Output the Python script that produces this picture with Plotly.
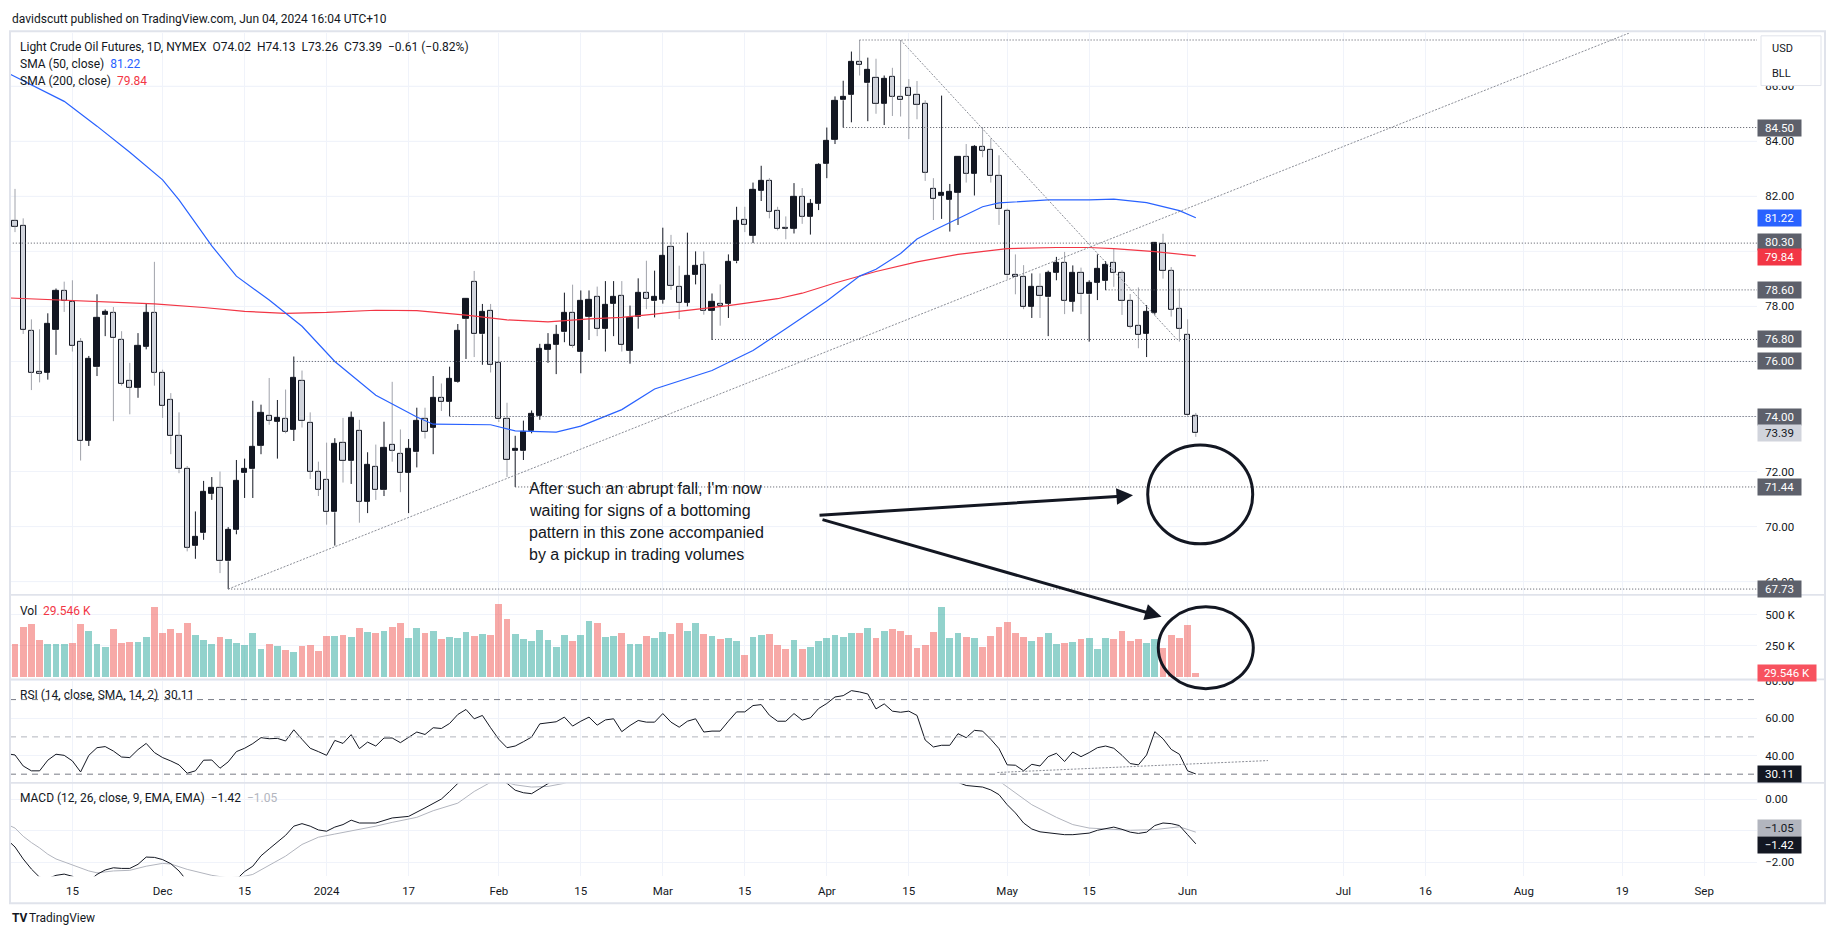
import pandas as pd
import plotly.graph_objects as go

# ---------------------------------------------------------------- data
SESSION_START = "2023-11-03"          # first session (off-screen, feeds indicator lines)
SESSION_END = "2024-09-30"
HOLIDAYS = ["2023-11-23", "2023-12-25", "2024-01-01", "2024-01-15", "2024-02-19",
            "2024-03-29", "2024-05-27", "2024-06-19", "2024-07-04", "2024-09-02"]

# bars 0..144 = 2023-11-06 .. 2024-06-04
OPEN = [
    81.12, 80.94, 77.11, 75.64, 75.60, 77.14, 78.55, 78.17, 76.73, 73.11,
    75.79, 77.68, 77.75, 76.78, 75.30, 75.05, 76.53, 77.75, 75.60, 74.59,
    73.28, 72.11, 69.29, 69.76, 71.18, 71.42, 68.74, 69.87, 71.94, 72.08,
    72.93, 74.04, 73.81, 73.91, 73.53, 75.30, 73.78, 72.00, 71.69, 70.52,
    73.05, 72.38, 73.49, 70.91, 72.17, 71.32, 72.98, 72.63, 71.97, 72.70,
    73.91, 73.60, 74.67, 74.53, 75.26, 77.54, 78.88, 76.99, 77.85, 75.95,
    73.90, 72.74, 72.74, 73.49, 74.04, 76.44, 76.60, 77.06, 77.78, 76.34,
    77.61, 78.33, 77.17, 78.09, 78.37, 76.39, 77.61, 78.48, 78.19, 78.23,
    80.16, 78.72, 78.13, 79.14, 79.50, 77.85, 78.09, 78.09, 79.64, 81.13,
    80.58, 82.20, 82.55, 81.48, 80.86, 80.83, 81.97, 81.27, 81.72, 83.18,
    84.07, 85.49, 85.68, 86.88, 86.11, 86.32, 85.36, 86.35, 85.63, 85.94,
    85.70, 85.36, 82.27, 82.01, 81.87, 82.13, 83.42, 82.83, 83.80, 83.70,
    82.75, 81.48, 79.16, 79.09, 78.00, 78.72, 78.33, 79.22, 79.58, 78.16,
    79.23, 78.44, 78.86, 78.92, 79.58, 79.22, 78.21, 77.30, 77.02, 77.78,
    80.28, 79.29, 77.90, 76.96, 74.02]
HIGH = [
    82.27, 81.20, 77.53, 77.17, 77.75, 78.65, 78.90, 78.95, 76.85, 76.20,
    78.44, 77.89, 77.98, 77.10, 75.95, 77.03, 78.12, 79.62, 75.70, 74.85,
    74.15, 72.20, 70.55, 71.66, 71.80, 72.00, 69.98, 72.42, 72.47, 74.57,
    74.43, 75.40, 74.60, 74.98, 76.18, 75.67, 74.15, 72.36, 73.05, 73.21,
    73.95, 74.18, 73.88, 72.70, 72.98, 73.81, 75.26, 73.53, 73.18, 74.32,
    74.32, 75.47, 75.20, 75.81, 77.36, 78.30, 79.29, 78.09, 78.09, 76.90,
    74.50, 73.30, 73.85, 74.22, 76.64, 77.03, 77.33, 78.50, 78.79, 78.58,
    78.58, 78.72, 78.92, 78.92, 78.92, 78.03, 79.02, 79.66, 79.30, 80.86,
    80.60, 79.48, 80.68, 80.00, 80.00, 78.47, 78.80, 79.89, 81.62, 81.62,
    82.50, 83.11, 82.66, 81.62, 81.27, 82.48, 82.30, 81.90, 83.20, 84.50,
    85.63, 86.20, 87.26, 87.68, 87.04, 87.00, 86.39, 86.67, 87.68, 86.26,
    86.19, 85.49, 82.66, 85.66, 82.45, 83.45, 83.90, 83.86, 84.52, 84.10,
    83.49, 81.55, 79.89, 79.50, 79.20, 79.20, 79.30, 79.80, 79.98, 79.49,
    79.41, 78.95, 79.89, 79.65, 80.10, 79.31, 78.45, 78.69, 78.05, 80.32,
    80.64, 79.43, 78.65, 77.53, 74.13]
LOW = [
    80.70, 77.00, 74.96, 75.24, 75.34, 76.24, 77.80, 76.36, 72.40, 72.93,
    75.47, 76.92, 73.83, 75.12, 74.08, 74.68, 76.44, 75.12, 73.95, 72.63,
    71.94, 69.10, 68.83, 69.52, 70.97, 68.31, 67.73, 69.72, 71.04, 71.04,
    72.63, 73.70, 72.47, 73.39, 73.11, 73.60, 71.73, 71.11, 70.07, 69.31,
    71.60, 71.55, 70.14, 70.49, 70.97, 71.11, 72.36, 71.25, 70.49, 72.15,
    73.20, 72.63, 74.20, 74.01, 75.23, 76.09, 76.16, 75.88, 75.60, 73.80,
    71.80, 71.44, 72.42, 73.39, 73.88, 75.95, 75.54, 76.70, 76.50, 75.57,
    76.78, 76.92, 76.36, 76.92, 76.36, 75.92, 77.19, 77.90, 77.60, 78.10,
    78.60, 77.54, 78.00, 78.80, 77.70, 76.78, 77.30, 77.58, 79.57, 80.70,
    80.30, 81.83, 81.20, 80.76, 80.44, 80.65, 81.00, 80.61, 81.50, 82.66,
    83.90, 84.50, 84.69, 86.39, 84.73, 85.00, 84.59, 84.92, 84.90, 84.08,
    84.80, 82.56, 81.14, 81.18, 80.72, 80.96, 82.50, 82.03, 83.42, 82.50,
    80.96, 79.00, 78.44, 77.90, 77.58, 77.58, 76.92, 78.95, 77.72, 77.81,
    77.72, 76.72, 78.23, 78.59, 78.71, 77.69, 77.20, 76.48, 76.16, 77.70,
    79.01, 77.63, 76.72, 74.00, 73.26]
CLOSE = [
    80.90, 77.14, 75.60, 75.56, 77.35, 78.55, 78.21, 76.57, 73.11, 76.09,
    77.58, 77.82, 76.85, 75.19, 75.05, 76.58, 77.75, 75.60, 74.39, 73.28,
    72.08, 69.24, 69.63, 71.28, 71.42, 68.74, 69.87, 71.66, 72.08, 72.91,
    74.15, 73.85, 73.95, 73.46, 75.42, 73.83, 72.00, 71.34, 70.52, 73.00,
    72.38, 73.95, 70.91, 72.24, 71.32, 72.87, 72.77, 71.94, 72.84, 73.83,
    73.43, 74.67, 74.53, 75.36, 77.13, 78.26, 76.99, 77.82, 75.88, 73.90,
    72.42, 72.84, 73.43, 74.08, 76.47, 76.62, 76.95, 77.78, 76.58, 78.19,
    78.23, 77.19, 78.05, 78.33, 76.60, 77.58, 78.51, 78.28, 78.33, 79.82,
    78.75, 78.13, 79.10, 79.48, 77.85, 78.16, 78.03, 79.61, 81.11, 80.96,
    82.22, 82.55, 81.44, 80.82, 80.82, 81.99, 81.27, 81.73, 83.14, 84.00,
    85.47, 85.63, 86.88, 86.77, 86.60, 85.36, 86.28, 85.63, 85.49, 85.66,
    85.33, 82.87, 81.90, 82.11, 82.15, 83.42, 82.83, 83.79, 83.67, 82.73,
    81.55, 79.13, 79.06, 77.98, 78.72, 78.37, 79.23, 79.58, 78.21, 79.23,
    78.44, 78.86, 79.37, 79.52, 79.22, 78.21, 77.27, 76.96, 77.81, 80.30,
    79.29, 77.89, 77.19, 74.05, 73.39]

VOLUME_K = [
    266, 398, 427, 298, 261, 261, 261, 274, 427, 371,
    266, 237, 387, 274, 282, 282, 323, 565, 355, 387,
    355, 435, 341, 298, 266, 323, 306, 274, 258, 355,
    226, 266, 250, 218, 202, 250, 258, 210, 331, 331,
    339, 323, 395, 363, 355, 371, 403, 435, 315, 395,
    355, 371, 306, 323, 315, 363, 331, 347, 339, 589,
    468, 347, 306, 290, 379, 298, 242, 339, 290, 339,
    452, 435, 323, 331, 355, 266, 266, 331, 315, 363,
    347, 435, 371, 435, 347, 331, 306, 315, 290, 177,
    323, 339, 347, 258, 226, 298, 226, 242, 290, 315,
    339, 323, 355, 355, 395, 315, 371, 387, 371, 339,
    234, 258, 363, 565, 315, 355, 323, 315, 242, 331,
    403, 444, 355, 323, 290, 323, 355, 266, 274, 282,
    306, 315, 226, 315, 306, 371, 290, 306, 274, 306,
    234, 339, 315, 419, 29.546]
VOL_TEAL_EXTRA = [6]          # volume column teal although the candle closed lower

# RSI, bars -1..144
RSI = [41.0,
       40.3, 34.4, 31.8, 31.8, 37.5, 40.7, 40.1, 37.1, 31.2, 40.1,
       44.2, 44.8, 42.4, 39.2, 38.9, 43.2, 46.5, 41.6, 38.9, 37.1,
       35.0, 30.5, 31.8, 37.5, 37.6, 33.2, 36.6, 42.1, 43.9, 46.4,
       49.6, 49.0, 49.2, 47.8, 53.8, 48.7, 43.9, 42.1, 40.1, 48.1,
       46.5, 51.2, 43.7, 47.2, 45.1, 49.4, 49.4, 46.9, 49.6, 52.6,
       51.3, 54.9, 54.5, 57.2, 62.0, 64.7, 59.7, 61.5, 54.9, 48.7,
       44.2, 45.1, 47.4, 49.9, 57.0, 57.4, 58.1, 60.6, 55.8, 58.4,
       60.6, 56.3, 59.1, 59.7, 52.8, 56.1, 58.8, 57.9, 57.9, 62.5,
       57.9, 55.2, 58.4, 59.7, 52.6, 53.1, 53.1, 58.4, 63.4, 63.4,
       66.8, 67.3, 61.6, 58.4, 58.4, 62.5, 59.0, 60.2, 65.2, 67.9,
       71.4, 72.1, 74.8, 74.1, 73.0, 65.0, 67.7, 63.8, 63.2, 63.8,
       61.5, 48.3, 44.6, 45.5, 45.5, 51.7, 49.6, 53.5, 53.1, 48.7,
       43.7, 35.0, 34.8, 31.8, 35.3, 34.4, 39.4, 41.2, 36.8, 41.9,
       39.4, 41.6, 44.2, 45.1, 43.9, 40.1, 35.7, 35.0, 40.3, 52.8,
       49.0, 43.3, 40.7, 31.8, 30.11]

SMA50_BAR = [-1, 6, 10, 14, 18, 20, 24, 27, 31, 35, 39, 44, 49, 51, 58, 61, 66, 69, 74, 78,
             85, 90, 94, 99, 103, 105, 108, 110, 112, 115, 118, 120, 126, 131, 134, 138, 142, 144]
SMA50_VAL = [86.50, 85.45, 84.55, 83.60, 82.60, 81.87, 80.20, 79.10, 78.23, 77.28,
             76.00, 74.77, 73.98, 73.72, 73.70, 73.48, 73.43, 73.65, 74.25, 75.00,
             75.67, 76.40, 77.19, 78.20, 79.10, 79.35, 79.92, 80.45, 80.76, 81.20,
             81.62, 81.76, 81.87, 81.87, 81.90, 81.77, 81.48, 81.22]
SMA200_BAR = [-1, 8, 17, 23, 28, 33, 38, 44, 49, 55, 60, 65, 70, 74, 78, 87, 93, 96, 100,
              105, 110, 115, 121, 127, 131, 134, 139, 144]
SMA200_VAL = [78.31, 78.19, 78.09, 77.96, 77.82, 77.75, 77.78, 77.86, 77.85, 77.68,
              77.51, 77.44, 77.55, 77.60, 77.72, 78.03, 78.28, 78.48, 78.85, 79.27,
              79.62, 79.89, 80.10, 80.14, 80.14, 80.10, 79.99, 79.84]

MACD_BAR = list(range(-1, 43)) + [44, 46, 48, 50, 52, 53, 54, 55, 56, 57, 58, 59, 60, 61, 62, 63, 64, 65, 66,
                                  68, 70, 72, 75, 78, 80, 84, 88, 91, 95, 99, 102, 105, 108, 111, 113, 114,
                                  115, 116, 118, 119, 120, 121, 122, 123, 124, 125, 126, 128, 129, 131, 132,
                                  134, 135, 136, 137, 138, 139, 140, 141, 142, 143, 144]
MACD_VAL = [-1.28, -1.52, -1.90, -2.22, -2.48, -2.52, -2.42, -2.38, -2.45, -2.65, -2.60, -2.39,
            -2.25, -2.18, -2.20, -2.20, -2.07, -1.84, -1.85, -1.92, -2.05, -2.28, -2.60, -2.85,
            -2.90, -2.88, -2.95, -2.80, -2.55, -2.30, -2.13, -1.80, -1.58, -1.35, -1.15, -0.86,
            -0.78, -0.86, -0.98, -1.02, -0.89, -0.81, -0.67, -0.76,
            -0.76, -0.60, -0.55, -0.28, 0.00, 0.24, 0.50, 0.75, 0.85, 0.85, 0.80, 0.62, 0.50,
            0.28, 0.20, 0.17, 0.33, 0.50, 0.65,
            0.75, 0.85, 0.90, 0.80, 0.75, 0.85, 0.80, 1.00, 1.30, 1.30, 1.60, 2.10, 2.20, 2.00,
            1.50, 1.10, 0.75, 0.53, 0.43, 0.38, 0.29, 0.14, -0.18, -0.44, -0.76, -0.95, -1.04,
            -1.07, -1.13, -1.13, -1.08, -0.99, -0.89, -0.96, -1.05, -1.09, -1.05, -0.84, -0.76,
            -0.78, -0.84, -1.13, -1.42]
SIGNAL_BAR = [-1, 0, 1, 2, 3, 4, 5, 6, 7, 8, 9, 10, 12, 14, 16, 18, 19, 21, 23, 24, 26, 28,
              29, 31, 33, 35, 37, 39, 42, 44, 46, 49, 51, 54, 56, 58, 59, 60, 61, 63, 65, 67,
              68, 72, 78, 85, 90, 95, 100, 105, 110, 114, 118, 120, 122, 124, 127, 129, 131,
              134, 136, 139, 142, 144]
SIGNAL_VAL = [-0.80, -0.92, -1.18, -1.38, -1.55, -1.75, -1.90, -2.00, -2.08, -2.18, -2.28, -2.34,
              -2.28, -2.26, -2.13, -2.04, -2.06, -2.23, -2.36, -2.42, -2.50, -2.45,
              -2.39, -2.11, -1.81, -1.44, -1.21, -1.11, -0.97, -0.86, -0.74, -0.58,
              -0.37, -0.13, 0.24, 0.53, 0.60, 0.52, 0.45, 0.38, 0.40, 0.50,
              0.60, 0.75, 0.78, 0.78, 0.95, 1.15, 1.40, 1.80, 1.80, 1.45,
              0.95, 0.58, 0.19, -0.18, -0.58, -0.81, -0.92, -0.95, -0.99, -0.97,
              -0.88, -1.05]

TICK_DATES = ["2023-11-15", "2023-12-01", "2023-12-15", "2024-01-02", "2024-01-17", "2024-02-01",
              "2024-02-15", "2024-03-01", "2024-03-15", "2024-04-01", "2024-04-15", "2024-05-01",
              "2024-05-15", "2024-06-03", "2024-07-01", "2024-07-16", "2024-08-01", "2024-08-19",
              "2024-09-03"]
TICK_LABELS = ["15", "Dec", "15", "2024", "17", "Feb", "15", "Mar", "15", "Apr", "15", "May",
               "15", "Jun", "Jul", "16", "Aug", "19", "Sep"]
PRICE_TICKS = [68, 70, 72, 78, 82, 84, 86]        # labelled price-scale ticks
PRICE_GRID = list(range(68, 88, 2))

# horizontal level drawings (price, first bar)
LEVEL_PRICE = [87.68, 84.50, 80.30, 78.60, 76.80, 76.00, 74.00, 71.44, 67.73]
LEVEL_FROM = [103, 101, -1, 133, 85, 34, 53, 61, 26]
# trend-line drawings (bar, value) pairs
TREND_UP = [(26, 67.73), (197, 87.95)]
TREND_DOWN = [(108, 87.68), (141.7, 76.80)]
RSI_TREND = [(119.8, 30.9), (152.8, 37.3)]

HEADER = "davidscutt published on TradingView.com, Jun 04, 2024 16:04 UTC+10"
TITLE = "Light Crude Oil Futures, 1D, NYMEX  O74.02  H74.13  L73.26  C73.39  −0.61 (−0.82%)"
NOTE_LINES = ["After such an abrupt fall, I'm now", "waiting for signs of a bottoming",
              "pattern in this zone accompanied", "by a pickup in trading volumes"]

assert len(OPEN) == len(HIGH) == len(LOW) == len(CLOSE) == len(VOLUME_K) == 145
assert len(RSI) == 146 and len(MACD_BAR) == len(MACD_VAL) and len(SIGNAL_BAR) == len(SIGNAL_VAL)

# ---------------------------------------------------------------- geometry helpers
W, H = 1840, 939
def px(x): return x / W
def py(y): return 1 - y / H

X0, X1 = px(10), px(1757)
XR = [-0.61, 212.44]
DOM_MAIN = [py(593), py(28)]
DOM_VOL = [py(678), py(593)]
DOM_RSI = [py(782), py(678)]
DOM_MACD = [py(876), py(782)]
R_MAIN = [67.52, 87.94]
R_VOL = [-24.2, 661.3]
R_RSI = [25.36, 80.83]
R_MACD = [-2.451, 0.514]

TXT = "#131722"
GRID = "#f0f3fa"
BORDER = "#e0e3eb"
FONT = "Roboto"
NBSP = "\u00a0"

days = pd.bdate_range(SESSION_START, SESSION_END)
days = days[~days.isin(pd.to_datetime(HOLIDAYS))]
bar_of = {d.strftime("%Y-%m-%d"): k - 1 for k, d in enumerate(days)}
tick_pos = [bar_of[d] for d in TICK_DATES]

bars = list(range(len(CLOSE)))
is_up = [CLOSE[i] >= OPEN[i] for i in bars]

fig = go.Figure()

# ---------------------------------------------------------------- candles
def wicks(sel):
    xs, ys = [], []
    for i in sel:
        top, bot = max(OPEN[i], CLOSE[i]), min(OPEN[i], CLOSE[i])
        xs += [i, i, None, i, i, None]
        ys += [HIGH[i], top, None, bot, LOW[i], None]
    return xs, ys

up_bars = [i for i in bars if is_up[i]]
dn_bars = [i for i in bars if not is_up[i]]
for sel, col in ((dn_bars, "#a0a3ab"), (up_bars, TXT)):
    wx, wy = wicks(sel)
    fig.add_trace(go.Scatter(x=wx, y=wy, mode="lines", line=dict(color=col, width=1),
                             xaxis="x", yaxis="y", hoverinfo="skip"))
for sel, fill in ((dn_bars, "#d1d4dc"), (up_bars, TXT)):
    fig.add_trace(go.Bar(x=sel, y=[abs(CLOSE[i] - OPEN[i]) for i in sel],
                         base=[min(OPEN[i], CLOSE[i]) for i in sel], width=0.64,
                         marker=dict(color=fill, line=dict(color=TXT, width=1)),
                         xaxis="x", yaxis="y", hoverinfo="skip"))

fig.add_trace(go.Scatter(x=SMA200_BAR, y=SMA200_VAL, mode="lines",
                         line=dict(color="#f23645", width=1.2), xaxis="x", yaxis="y"))
fig.add_trace(go.Scatter(x=SMA50_BAR, y=SMA50_VAL, mode="lines",
                         line=dict(color="#2962ff", width=1.2), xaxis="x", yaxis="y"))

# ---------------------------------------------------------------- volume
vol_cols = ["rgba(38,166,154,0.5)" if (is_up[i] or i in VOL_TEAL_EXTRA) else "rgba(239,83,80,0.5)"
            for i in bars]
fig.add_trace(go.Bar(x=bars, y=VOLUME_K, width=0.82, marker=dict(color=vol_cols, line=dict(width=0)),
                     xaxis="x2", yaxis="y2", hoverinfo="skip"))

# ---------------------------------------------------------------- RSI
fig.add_trace(go.Scatter(x=list(range(-1, len(RSI) - 1)), y=RSI, mode="lines",
                         line=dict(color=TXT, width=1), xaxis="x3", yaxis="y3"))

# ---------------------------------------------------------------- MACD
fig.add_trace(go.Scatter(x=SIGNAL_BAR, y=SIGNAL_VAL, mode="lines",
                         line=dict(color="#b2b5be", width=1), xaxis="x4", yaxis="y4"))
fig.add_trace(go.Scatter(x=MACD_BAR, y=MACD_VAL, mode="lines",
                         line=dict(color=TXT, width=1), xaxis="x4", yaxis="y4"))

# ---------------------------------------------------------------- axes
axis_font = dict(family=FONT, size=11.5, color=TXT)

def xax(anchor, labels):
    d = dict(domain=[X0, X1], range=XR, anchor=anchor, tickvals=tick_pos, showgrid=True,
             gridcolor=GRID, gridwidth=1, zeroline=False, showline=False, fixedrange=True,
             showticklabels=labels)
    if labels:
        d.update(ticktext=TICK_LABELS, ticks="outside", ticklen=4,
                 tickcolor="rgba(0,0,0,0)", tickfont=axis_font)
    else:
        d.update(ticks="")
    return d

def yax(anchor, dom, rng, vals, texts, grid=None):
    d = dict(domain=dom, range=rng, anchor=anchor, side="right", tickvals=vals, ticktext=texts,
             showgrid=True, gridcolor=GRID, gridwidth=1, zeroline=False, showline=False,
             ticks="outside", ticklen=5, tickcolor="rgba(0,0,0,0)", tickfont=axis_font,
             fixedrange=True)
    return d

layout = dict(
    width=W, height=H, margin=dict(l=0, r=0, t=0, b=0), autosize=False,
    paper_bgcolor="white", plot_bgcolor="white", showlegend=False,
    barmode="overlay", bargap=0, font=dict(family=FONT, color=TXT),
    xaxis=xax("y", False), xaxis2=xax("y2", False), xaxis3=xax("y3", False), xaxis4=xax("y4", True),
    yaxis=yax("x", DOM_MAIN, R_MAIN, PRICE_TICKS, [f"{v:.2f}" for v in PRICE_TICKS]),
    yaxis2=yax("x2", DOM_VOL, R_VOL, [250, 500], ["250 K", "500 K"]),
    yaxis3=yax("x3", DOM_RSI, R_RSI, [40, 60, 80], ["40.00", "60.00", "80.00"]),
    yaxis4=yax("x4", DOM_MACD, R_MACD, [0, -1, -2], ["0.00", "−1.00", "−2.00"]),
)
fig.update_layout(**layout)

# ---------------------------------------------------------------- drawings
shapes = []
# price grid lines (some grid levels carry no label on the scale)
for g in PRICE_GRID:
    shapes.append(dict(type="line", xref="paper", yref="y", x0=X0, x1=X1, y0=g, y1=g,
                       line=dict(color=GRID, width=1), layer="below"))
for price, start in zip(LEVEL_PRICE, LEVEL_FROM):
    shapes.append(dict(type="line", xref="x", yref="y", x0=start, x1=XR[1] + 5, y0=price, y1=price,
                       line=dict(color="#50535e", width=1, dash="1px,2px"), layer="above"))
for (a, b) in (TREND_UP, TREND_DOWN):
    shapes.append(dict(type="line", xref="x", yref="y", x0=a[0], y0=a[1], x1=b[0], y1=b[1],
                       line=dict(color="#8a8d96", width=1, dash="2px,1.5px"), layer="above"))
shapes.append(dict(type="line", xref="x3", yref="y3", x0=RSI_TREND[0][0], y0=RSI_TREND[0][1],
                   x1=RSI_TREND[1][0], y1=RSI_TREND[1][1],
                   line=dict(color="#8a8d96", width=1, dash="2px,1.5px"), layer="above"))
# RSI bands
for lvl, col in ((70, "#787b86"), (50, "#b2b5be"), (30, "#787b86")):
    shapes.append(dict(type="line", xref="paper", yref="y3", x0=X0, x1=X1, y0=lvl, y1=lvl,
                       line=dict(color=col, width=1, dash="6px,5px"), layer="above"))
# frame and pane separators
shapes.append(dict(type="rect", xref="paper", yref="paper", x0=px(10), x1=px(1825), y0=py(903),
                   y1=py(26.5), line=dict(color=BORDER, width=2), fillcolor="rgba(0,0,0,0)"))
for yy in (593, 678, 782):
    shapes.append(dict(type="line", xref="paper", yref="paper", x0=px(10), x1=px(1825),
                       y0=py(yy), y1=py(yy), line=dict(color=BORDER, width=1.6)))
# circles
shapes.append(dict(type="circle", xref="paper", yref="paper", x0=px(1147.7), x1=px(1252.7),
                   y0=py(541.7), y1=py(442.3), line=dict(color=TXT, width=3), layer="above"))
shapes.append(dict(type="circle", xref="paper", yref="paper", x0=px(1158.3), x1=px(1253.3),
                   y0=py(687.3), y1=py(605), line=dict(color=TXT, width=3), layer="above"))
# currency box
shapes.append(dict(type="rect", xref="paper", yref="paper", x0=px(1761), x1=px(1821),
                   y0=py(81), y1=py(31), line=dict(color=BORDER, width=1), fillcolor="white",
                   layer="above"))

ann = []
def text(x, y, s, size=12, color=TXT, family=FONT, anchor="left"):
    ann.append(dict(xref="paper", yref="paper", x=px(x), y=py(y), text=s, showarrow=False,
                    xanchor=anchor, yanchor="middle", font=dict(family=family, size=size, color=color)))

text(10, 14, HEADER)
text(18, 42.5, TITLE.replace(" ", NBSP))
text(18, 59, f"SMA (50, close){NBSP}{NBSP}<span style='color:#2962ff'>81.22</span>")
text(18, 76, f"SMA (200, close){NBSP}{NBSP}<span style='color:#f23645'>79.84</span>")
text(18, 609, f"Vol{NBSP}{NBSP}<span style='color:#f23645'>29.546{NBSP}K</span>")
text(18, 694, f"RSI (14, close, SMA, 14, 2){NBSP}{NBSP}30.11")
text(18, 797.5, f"MACD (12, 26, close, 9, EMA, EMA){NBSP}{NBSP}−1.42{NBSP}{NBSP}"
                f"<span style='color:#b2b5be'>−1.05</span>")
text(1770, 43.5, "USD", size=11)
text(1770, 69, "BLL", size=11)
text(10, 918, "<b>TV</b>", size=12)
text(27, 918, "TradingView", size=12)
for k, line in enumerate(NOTE_LINES):
    text(527, 486.5 + 22 * k, line, size=16, family="Liberation Sans")

# arrows
for tip, tail in (((1133, 493), (818, 513)), ((1161.5, 615), (821, 517.5))):
    ann.append(dict(xref="paper", yref="paper", x=px(tip[0]), y=py(tip[1]), text="",
                    showarrow=True, ax=tail[0] - tip[0], ay=tail[1] - tip[1], axref="pixel",
                    ayref="pixel", arrowhead=2, arrowsize=1.1, arrowwidth=3, arrowcolor=TXT,
                    standoff=0, startstandoff=0))

# right-axis value labels
def tag(yref, val, label, bg, fg="white", w=41, shift=0):
    ann.append(dict(xref="paper", yref=yref, x=X1, y=val, text=label, showarrow=False,
                    xanchor="left", yanchor="middle", bgcolor=bg, width=w, height=14,
                    borderpad=1, align="center", yshift=shift,
                    font=dict(family=FONT, size=11.5, color=fg)))

for v in LEVEL_PRICE[1:]:
    tag("y", v, f"{v:.2f}", "#5d606b", shift=1.5 if v == 80.30 else 0)
tag("y", 81.22, "81.22", "#2962ff")
tag("y", 79.84, "79.84", "#f23645", shift=-1.5)
tag("y", 73.39, "73.39", "#d1d4dc", fg=TXT)
tag("y2", 29.546, f"29.546{NBSP}K", "#f7525f", w=56)
tag("y3", 30.11, "30.11", TXT)
tag("y4", -1.05, "−1.05", "#b2b5be", fg=TXT, shift=4.5)
tag("y4", -1.42, "−1.42", TXT, shift=-1.5)

fig.update_layout(shapes=shapes, annotations=ann)
fig.write_html("out.html", config={"displayModeBar": False})
